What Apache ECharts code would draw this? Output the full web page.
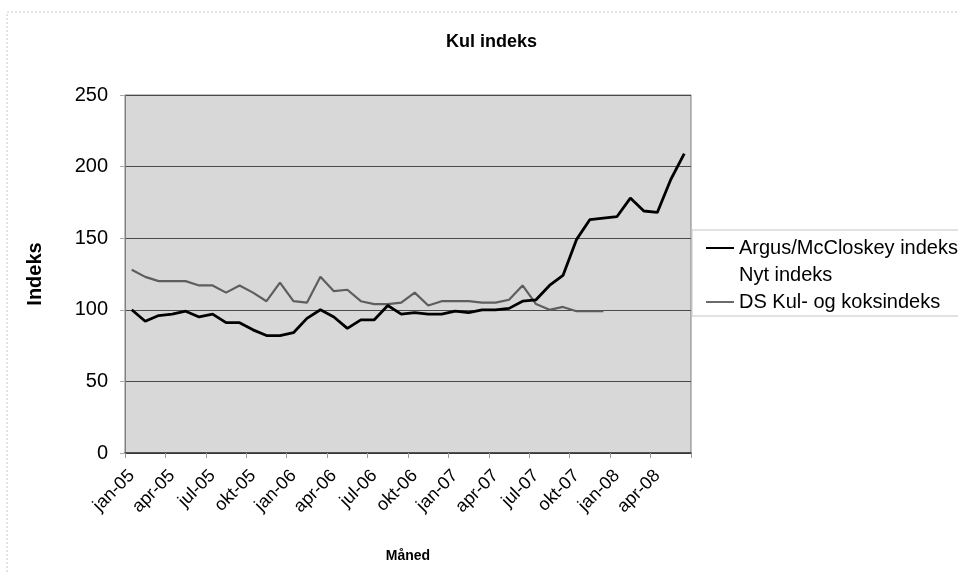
<!DOCTYPE html>
<html>
<head>
<meta charset="utf-8">
<script src="https://cdn.jsdelivr.net/npm/echarts@6/dist/echarts.min.js"></script>
<style>html,body{margin:0;padding:0;background:#fff}#c{width:958px;height:573px}</style>
</head>
<body>
<div id="c"></div>
<script>
const categories = [
 'jan-05','feb-05','mar-05','apr-05','maj-05','jun-05','jul-05','aug-05','sep-05','okt-05','nov-05','dec-05',
 'jan-06','feb-06','mar-06','apr-06','maj-06','jun-06','jul-06','aug-06','sep-06','okt-06','nov-06','dec-06',
 'jan-07','feb-07','mar-07','apr-07','maj-07','jun-07','jul-07','aug-07','sep-07','okt-07','nov-07','dec-07',
 'jan-08','feb-08','mar-08','apr-08','maj-08','jun-08'];
const argusValues = [100,92,96,97,99,95,97,91,91,86,82,82,
 84,94,100,95,87,93,93,103,97,98,97,97,
 99,98,100,100,101,106,107,117,124,149,163,164,
 165,178,169,168,191,209];
const nytValues = [];
const dsValues = [128,123,120,120,120,117,117,112,117,112,106,119,
 106,105,123,113,114,106,104,104,105,112,103,106,
 106,106,105,105,107,117,104,100,102,99,99,99,
 null,null,null,null,null,null];
const yTicks = {min:0, max:250, interval:50};
const seriesNames = ['Argus/McCloskey indeks','Nyt indeks','DS Kul- og koksindeks'];

const font = "'Liberation Sans', Arial, sans-serif";
const chart = echarts.init(document.getElementById('c'), null, {renderer:'canvas'});
chart.setOption({
  animation:false,
  backgroundColor:'#ffffff',
  title:{text:'Kul indeks', left:441, top:28,
    textStyle:{fontFamily:font, fontSize:18, fontWeight:'bold', color:'#000'}},
  grid:{left:125, right:267, top:95, bottom:120, show:true,
    backgroundColor:'#d8d8d8', borderColor:'#808080', borderWidth:1},
  legend:{orient:'vertical', left:692, top:230, itemWidth:28, itemHeight:2, itemGap:7,
    padding:[8,4,4,14], borderColor:'#c4c4c4', borderWidth:1,
    textStyle:{fontFamily:font, fontSize:20, color:'#000'},
    data:[
      {name:seriesNames[0], icon:'rect', itemStyle:{color:'#000'}},
      {name:seriesNames[1], icon:'rect', itemStyle:{color:'rgba(0,0,0,0)'}},
      {name:seriesNames[2], icon:'rect', itemStyle:{color:'#6a6a6a'}}
    ]},
  xAxis:{type:'category', data:categories, boundaryGap:true,
    name:'Måned', nameLocation:'middle', nameGap:96,
    nameTextStyle:{fontFamily:font, fontSize:14, fontWeight:'bold', color:'#000'},
    axisLine:{lineStyle:{color:'#333', width:1.5}},
    axisTick:{show:true, interval:2, length:5, lineStyle:{color:'#999'}},
    axisLabel:{interval:2, rotate:45, margin:20, fontFamily:font, fontSize:18, color:'#000'},
    splitLine:{show:false}},
  yAxis:{type:'value', min:yTicks.min, max:yTicks.max, interval:yTicks.interval,
    name:'Indeks', nameLocation:'middle', nameGap:80, nameRotate:90,
    nameTextStyle:{fontFamily:font, fontSize:20, fontWeight:'bold', color:'#000'},
    axisLine:{show:true, lineStyle:{color:'#808080'}},
    axisTick:{show:true, length:5, lineStyle:{color:'#aaa'}},
    axisLabel:{margin:17, fontFamily:font, fontSize:20, color:'#000'},
    splitLine:{show:true, lineStyle:{color:'#4a4a4a', width:1}}},
  graphic:[{type:'rect', shape:{x:7, y:12, width:960, height:570}, silent:true, z:-10,
    style:{fill:null, stroke:'#c8c8c8', lineWidth:1, lineDash:[2,2]}}],
  series:[
    {name:seriesNames[0], type:'line', data:argusValues, showSymbol:false, symbol:'none',
      lineStyle:{color:'#000', width:2.8}, itemStyle:{color:'#000'}, z:3},
    {name:seriesNames[1], type:'line', data:nytValues, showSymbol:false, symbol:'none',
      lineStyle:{color:'rgba(0,0,0,0)'}, itemStyle:{color:'rgba(0,0,0,0)'}},
    {name:seriesNames[2], type:'line', data:dsValues, showSymbol:false, symbol:'none',
      lineStyle:{color:'#5e5e5e', width:2.2}, itemStyle:{color:'#6a6a6a'}, z:2}
  ]
});
</script>
</body>
</html>
